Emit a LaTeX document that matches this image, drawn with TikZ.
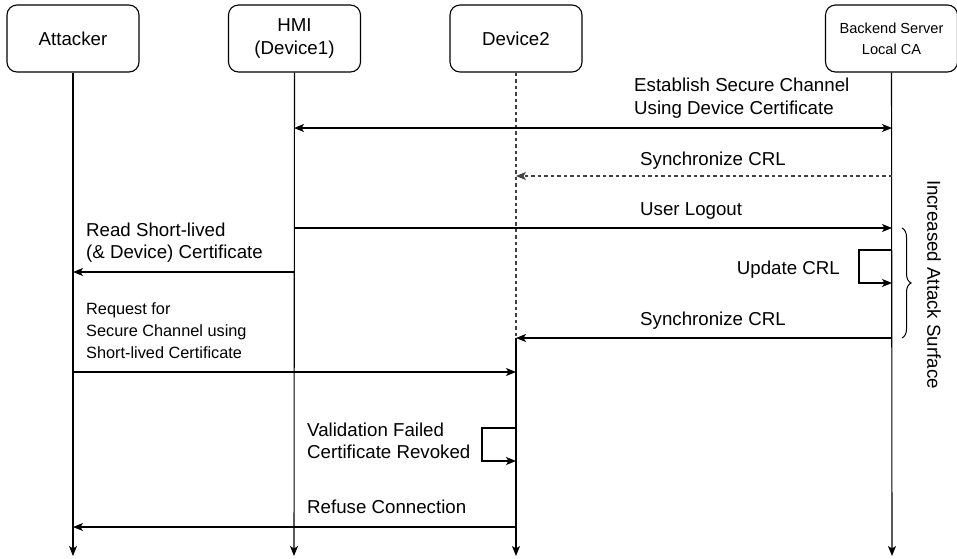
\documentclass[tikz,border=0pt]{standalone}
\usepackage{fontspec}
\setmainfont{Liberation Sans}
\usetikzlibrary{arrows.meta,decorations.pathreplacing}
\newcommand\mainf{\fontsize{18.7}{23}\selectfont}
\newcommand\smallf{\fontsize{16.3}{21}\selectfont}
\newcommand\boxf{\fontsize{14.6}{21}\selectfont}
\tikzset{
  actor/.style={draw, line width=1.1pt, rounded corners=10pt, minimum width=132pt, minimum height=67pt, align=center, inner sep=0pt},
  life/.style={line width=1.1pt, -{Stealth[length=10pt,width=8pt,inset=2.5pt]}},
  msg/.style={line width=1.1pt, -{Stealth[length=10pt,width=8pt,inset=2.5pt]}},
  dmsg/.style={msg, black!75, dash pattern=on 3.5pt off 3pt},
  lbl/.style={anchor=base west, inner sep=0pt, font=\mainf},
  slbl/.style={anchor=base west, inner sep=0pt, font=\smallf},
}
\begin{document}
\begin{tikzpicture}[x=1pt,y=-1pt]
\useasboundingbox (0,0) rectangle (957,558);
% actors
\node[actor, font=\mainf] (att) at (73,38.5) {Attacker};
\node[actor, font=\mainf] (hmi) at (294.5,38.5) {HMI\\(Device1)};
\node[actor, font=\mainf] (dev) at (516,38.5) {Device2};
\node[actor, font=\boxf] (bk) at (891.5,38.5) {Backend Server\\Local CA};
% lifeline ends
\coordinate (attE) at (73,556);
\coordinate (hmiE) at (294,556);
\coordinate (devE) at (516,556);
\coordinate (bkE) at (892,556);
\coordinate (devS) at (516,338);
\draw[life] (att.south) -- (attE);
\draw[life] (hmi.south) -- (hmiE);
\draw[line width=1.1pt, black!75, dash pattern=on 3.5pt off 3pt] (dev.south) -- (devS);
\draw[life] (devS) -- (devE);
\draw[life] (bk.south) -- (bkE);
% message coordinates
\coordinate (m1a) at (294,128); \coordinate (m1b) at (892,128);
\coordinate (m2a) at (892,176); \coordinate (m2b) at (516,176);
\coordinate (m3a) at (294,228); \coordinate (m3b) at (892,228);
\coordinate (m4a) at (294,272); \coordinate (m4b) at (73,272);
\coordinate (u1) at (892,250); \coordinate (u2) at (859,250); \coordinate (u3) at (859,283); \coordinate (u4) at (892,283);
\coordinate (m5a) at (892,338);
\coordinate (m6a) at (73,372); \coordinate (m6b) at (516,372);
\coordinate (v1) at (516,428); \coordinate (v2) at (482,428); \coordinate (v3) at (482,461); \coordinate (v4) at (516,461);
\coordinate (m7a) at (516,527); \coordinate (m7b) at (73,527);
% messages
\draw[msg, {Stealth[length=10pt,width=8pt,inset=2.5pt]}-{Stealth[length=10pt,width=8pt,inset=2.5pt]}] (m1a) -- (m1b);
\node[lbl] (t1a) at (634,91) {Establish Secure Channel};
\node[lbl] (t1b) at (634,114) {Using Device Certificate};
\draw[dmsg] (m2a) -- (m2b);
\node[lbl] (t2) at (640,165) {Synchronize CRL};
\draw[msg] (m3a) -- (m3b);
\node[lbl] (t3) at (640,215) {User Logout};
\draw[msg] (m4a) -- (m4b);
\node[lbl] (t4a) at (86,236) {Read Short-lived};
\node[lbl] (t4b) at (86,258.5) {(\& Device) Certificate};
\draw[msg] (u1) -- (u2) -- (u3) -- (u4);
\node[lbl, anchor=base east] (t5) at (840,274) {Update CRL};
\draw[msg] (m5a) -- (devS);
\node[lbl] (t6) at (640,325) {Synchronize CRL};
\draw[msg] (m6a) -- (m6b);
\node[slbl] (t7a) at (86,314) {Request for};
\node[slbl] (t7b) at (86,336) {Secure Channel using};
\node[slbl] (t7c) at (86,358) {Short-lived Certificate};
\draw[msg] (v1) -- (v2) -- (v3) -- (v4);
\node[lbl] (t8a) at (307,436) {Validation Failed};
\node[lbl] (t8b) at (307,458.5) {Certificate Revoked};
\draw[msg] (m7a) -- (m7b);
\node[lbl] (t9) at (307,513) {Refuse Connection};
% brace
\coordinate (br1) at (902,228); \coordinate (br2) at (902,338);
\draw[line width=1pt, decorate, decoration={brace, amplitude=9pt}] (br1) -- (br2);
\node[rotate=-90, font=\mainf, inner sep=0pt] (ias) at (934,284.5) {Increased Attack Surface};
\end{tikzpicture}
\end{document}
